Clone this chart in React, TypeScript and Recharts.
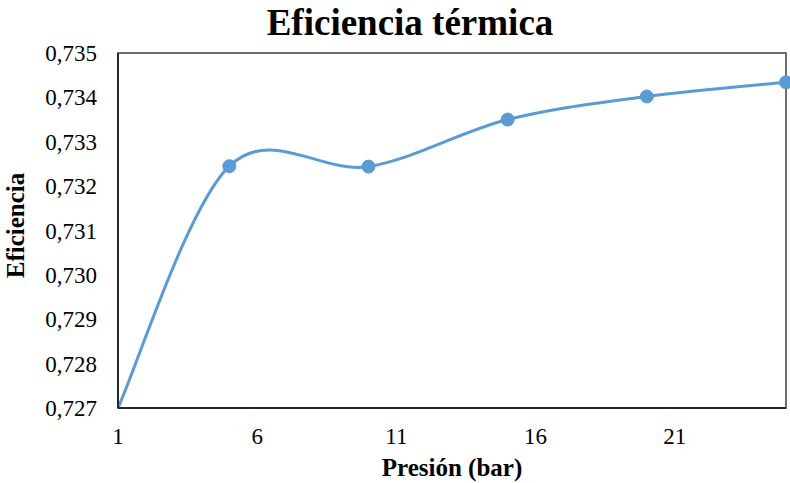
import React from "react";
import { LineChart, Line, XAxis, YAxis, ReferenceArea, Label } from "recharts";

const presion = [1, 5, 10, 15, 20, 25];
const eficiencia = [0.727, 0.73245, 0.73244, 0.7335, 0.73402, 0.73434];
const xTicks = [1, 6, 11, 16, 21];
const yTicks = [0.727, 0.728, 0.729, 0.73, 0.731, 0.732, 0.733, 0.734, 0.735];

const data = presion.map((p, i) => ({ p, e: eficiencia[i] }));

const FONT = "Liberation Serif";
const BLUE = "#5B9BD5";

// Excel-like smoothed line (Catmull-Rom style bezier)
const excelSmooth = (context: any) => {
  let pts: number[][] = [];
  return {
    areaStart() {},
    areaEnd() {},
    lineStart() {
      pts = [];
    },
    point(x: number, y: number) {
      pts.push([+x, +y]);
    },
    lineEnd() {
      const n = pts.length;
      if (!n) return;
      context.moveTo(pts[0][0], pts[0][1]);
      for (let i = 0; i < n - 1; i++) {
        const p0 = pts[Math.max(i - 1, 0)];
        const p1 = pts[i];
        const p2 = pts[i + 1];
        const p3 = pts[Math.min(i + 2, n - 1)];
        context.bezierCurveTo(
          p1[0] + (p2[0] - p0[0]) / 6,
          p1[1] + (p2[1] - p0[1]) / 6,
          p2[0] - (p3[0] - p1[0]) / 6,
          p2[1] - (p3[1] - p1[1]) / 6,
          p2[0],
          p2[1]
        );
      }
    },
  };
};

const renderDot = (props: any) => {
  const { cx, cy, index } = props;
  if (index === 0) return <g key={`d${index}`} />;
  return <circle key={`d${index}`} cx={cx} cy={cy} r={6.5} fill={BLUE} stroke={BLUE} strokeWidth={1} />;
};

const fmt = (v: number) => v.toFixed(3).replace(".", ",");

const XTick = (props: any) => {
  const { x, y, payload } = props;
  return (
    <text x={x} y={y + 16} textAnchor="middle" fontFamily={FONT} fontSize={23} fill="#000">
      {payload.value}
    </text>
  );
};

const YTick = (props: any) => {
  const { x, y, payload } = props;
  return (
    <text x={x} y={y + 8} textAnchor="end" fontFamily={FONT} fontSize={23} fill="#000">
      {fmt(payload.value)}
    </text>
  );
};

export default function App() {
  return (
    <div style={{ position: "relative", width: 790, height: 483, background: "#fff" }}>
      <style>{`body{margin:0}`}</style>
      <div
        style={{
          position: "absolute",
          left: 0,
          width: 820,
          top: 1,
          textAlign: "center",
          fontFamily: FONT,
          fontWeight: "bold",
          fontSize: 37,
          lineHeight: "44px",
          color: "#000",
        }}
      >
        Eficiencia térmica
      </div>
      <LineChart width={790} height={483} data={data} margin={{ top: 53, right: 4, bottom: 0, left: 0 }}>
        <ReferenceArea x1={1} x2={25} y1={0.727} y2={0.735} fill="none" stroke="#404040" strokeWidth={1.5} />
        <XAxis
          dataKey="p"
          type="number"
          domain={[1, 25]}
          ticks={xTicks}
          height={75}
          tickLine={false}
          tickSize={0}
          tickMargin={20}
          axisLine={{ stroke: "#262626", strokeWidth: 2 }}
          tick={<XTick />}
          interval={0}
        >
          <Label
            content={({ viewBox }: any) => (
              <text
                x={viewBox.x + viewBox.width / 2}
                y={476}
                textAnchor="middle"
                fontFamily={FONT}
                fontWeight="bold"
                fontSize={25}
                fill="#000"
              >
                Presión (bar)
              </text>
            )}
          />
        </XAxis>
        <YAxis
          type="number"
          domain={[0.727, 0.735]}
          ticks={yTicks}
          width={118}
          tickLine={false}
          tickSize={0}
          tickMargin={21}
          axisLine={{ stroke: "#262626", strokeWidth: 2 }}
          tick={<YTick />}
          interval={0}
        >
          <Label
            content={({ viewBox }: any) => {
              const cy = viewBox.y + viewBox.height / 2 - 5;
              return (
                <text
                  x={24}
                  y={cy}
                  transform={`rotate(-90, 24, ${cy})`}
                  textAnchor="middle"
                  fontFamily={FONT}
                  fontWeight="bold"
                  fontSize={25}
                  fill="#000"
                >
                  Eficiencia
                </text>
              );
            }}
          />
        </YAxis>
        <Line
          type={excelSmooth as any}
          dataKey="e"
          stroke={BLUE}
          strokeWidth={3}
          dot={renderDot}
          activeDot={false}
          isAnimationActive={false}
        />
      </LineChart>
    </div>
  );
}
